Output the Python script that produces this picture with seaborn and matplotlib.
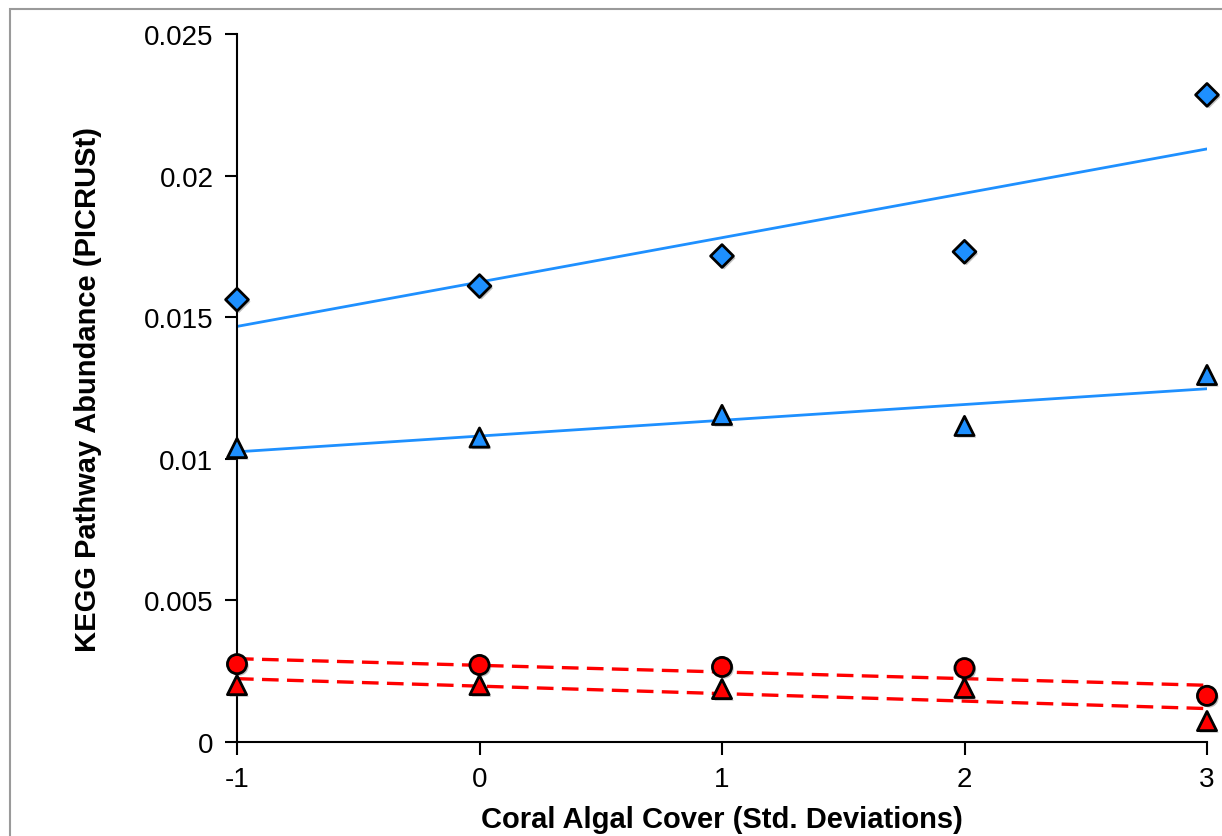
import numpy as np
import pandas as pd
import seaborn as sns
import matplotlib
matplotlib.use("Agg")
import matplotlib.pyplot as plt
import matplotlib.patheffects as pe
from matplotlib.patches import Rectangle

# ---- data ----
algal_cover = [-1, 0, 1, 2, 3]
blue_diamond = [0.01562, 0.01610, 0.01716, 0.01731, 0.02285]
blue_triangle = [0.01038, 0.01075, 0.01155, 0.01116, 0.01296]
red_circle = [0.00275, 0.00272, 0.00265, 0.00261, 0.00163]
red_triangle = [0.00201, 0.00201, 0.00187, 0.00191, 0.00074]
x_ticks = [-1, 0, 1, 2, 3]
y_ticks = [0, 0.005, 0.01, 0.015, 0.02, 0.025]
y_tick_labels = ["0", "0.005", "0.01", "0.015", "0.02", "0.025"]

BLUE = "#1E90FF"
RED = "#FF0000"

series = [
    (blue_diamond, BLUE, "D", 135, "-"),
    (blue_triangle, BLUE, "^", 190, "-"),
    (red_circle, RED, "o", 190, (0, (5, 2.5))),
    (red_triangle, RED, "^", 190, (0, (5, 2.5))),
]

sns.set_theme(style="white")
plt.rcParams["font.family"] = ["Liberation Sans", "DejaVu Sans"]

fig = plt.figure(figsize=(12.22, 8.37), dpi=100)
ax = fig.add_axes([237 / 1222, 94 / 837, 970 / 1222, 708 / 837])

shadow = [pe.SimplePatchShadow(offset=(1.5, -1.5), alpha=0.35, shadow_rgbFace="0.3"), pe.Normal()]

for vals, color, marker, size, ls in series:
    df = pd.DataFrame({"x": algal_cover, "y": vals})
    sns.regplot(data=df, x="x", y="y", ax=ax, ci=None, scatter=False, truncate=True,
                line_kws=dict(color=color, lw=2.0 if ls == "-" else 2.4, linestyle=ls, zorder=2))

for vals, color, marker, size, ls in series:
    df = pd.DataFrame({"x": algal_cover, "y": vals})
    sns.scatterplot(data=df, x="x", y="y", ax=ax, marker=marker, s=size, color=color,
                    edgecolor="black", linewidth=2.0, zorder=3, clip_on=False)
for coll in ax.collections:
    coll.set_path_effects(shadow)
    coll.set_clip_on(False)

ax.set_xlim(-1, 3)
ax.set_ylim(0, 0.025)
ax.set_xticks(x_ticks)
ax.set_xticklabels([str(v) for v in x_ticks])
ax.set_yticks(y_ticks)
ax.set_yticklabels(y_tick_labels)
ax.tick_params(axis="both", labelsize=20, direction="out", length=9, width=1.5,
               color="black", labelcolor="black", left=True, bottom=True, pad=8)
for side in ["top", "right"]:
    ax.spines[side].set_visible(False)
for side in ["left", "bottom"]:
    ax.spines[side].set_color("black")
    ax.spines[side].set_linewidth(1.5)
ax.grid(False)

ax.set_xlabel("Coral Algal Cover (Std. Deviations)", fontsize=21, fontweight="bold",
              color="black", labelpad=10)
ax.set_ylabel("KEGG Pathway Abundance (PICRUSt)", fontsize=21, fontweight="bold",
              color="black", labelpad=30)

# outer chart border
fig.patches.append(Rectangle((10 / 1222, -0.1), 1.2, (837 - 10) / 837 + 0.1,
                             transform=fig.transFigure, fill=False, edgecolor="#9a9a9a",
                             linewidth=1.5, zorder=0))

fig.savefig("out.png", dpi=100)
